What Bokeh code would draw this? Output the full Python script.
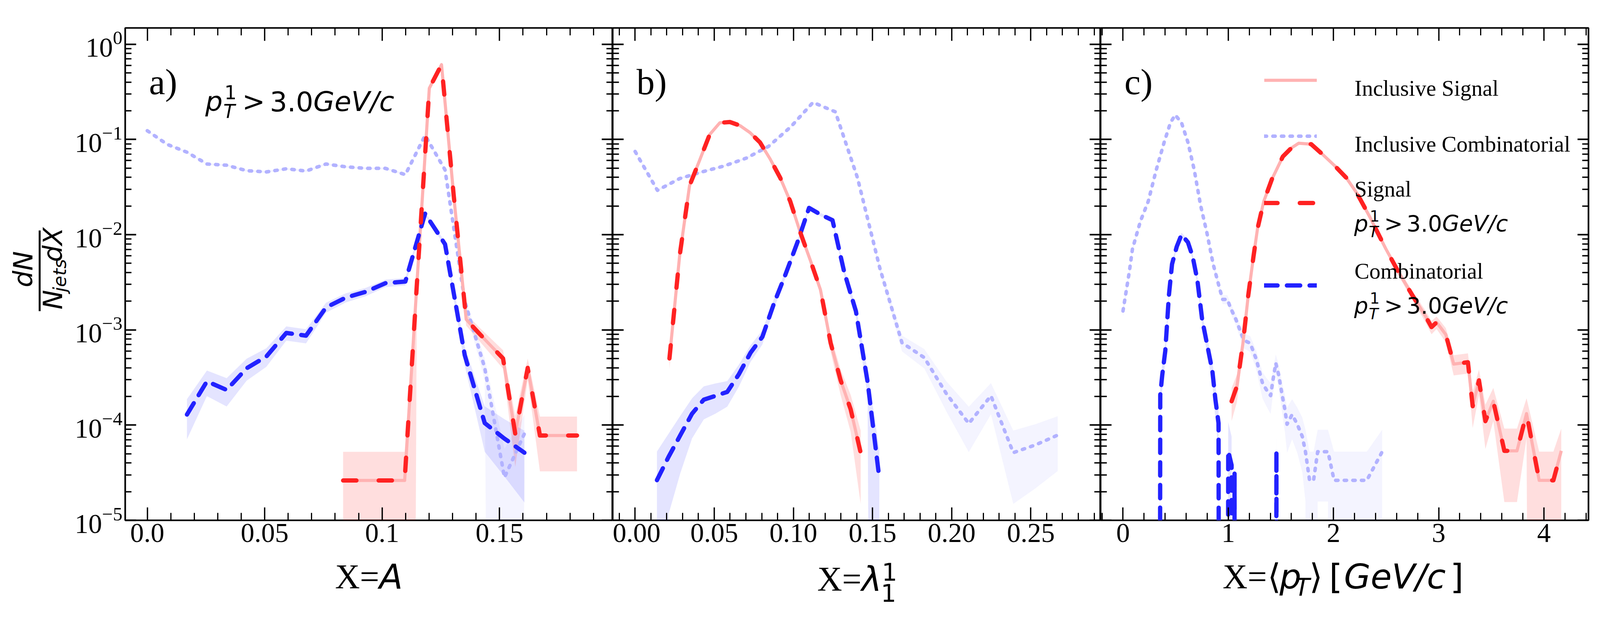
import math
from bokeh.plotting import figure
from bokeh.models import (Range1d, LinearAxis, LogAxis, FixedTicker, Label, Legend,
                          LegendItem, Arrow, CustomJSTickFormatter)
from bokeh.layouts import row, column
from bokeh.embed import file_html
from bokeh.resources import INLINE
from bokeh.core.properties import value

# ------------------------------------------------------------------ data
# Panel a) X = A
A_sig_x = [0.0834, 0.0886, 0.0939, 0.0991, 0.1044, 0.1096, 0.1148, 0.1201, 0.1253, 0.1305,
           0.1358, 0.1410, 0.1463, 0.1515, 0.1567, 0.1620, 0.1672, 0.1725, 0.1777, 0.1830]
A_sig_y = [2.62e-5, 2.62e-5, 2.62e-5, 2.62e-5, 2.62e-5, 2.62e-5, 3.0e-3, 0.345, 0.610, 0.0257,
           1.29e-3, 9.35e-4, 6.82e-4, 5.01e-4, 8.09e-5, 3.99e-4, 7.78e-5, 7.78e-5, 7.78e-5, 7.78e-5]
A_sig_err = [1.0, 1.0, 1.0, 1.0, 1.0, 1.0, 0.09, 0.01, 0.007, 0.03,
             0.14, 0.16, 0.19, 0.22, 0.55, 0.25, 0.58, 0.58, 0.58, 0.58]

A_comb_x = [0.0169, 0.0254, 0.0338, 0.0423, 0.0507, 0.0592, 0.0676, 0.0761, 0.0845, 0.0930,
            0.1014, 0.1099, 0.1183, 0.1268, 0.1352, 0.1437, 0.1521, 0.1606]
A_comb_y = [1.29e-4, 2.88e-4, 2.34e-4, 3.95e-4, 5.25e-4, 9.29e-4, 8.69e-4, 1.72e-3, 2.18e-3, 2.51e-3,
            3.09e-3, 3.22e-3, 1.66e-2, 7.94e-3, 5.41e-4, 1.05e-4, 7.21e-5, 5.13e-5]
A_comb_err = [0.45, 0.30, 0.33, 0.26, 0.22, 0.17, 0.17, 0.12, 0.11, 0.10,
              0.09, 0.09, 0.04, 0.06, 0.22, 0.5, 0.6, 0.7]

A_icomb_x = [0.0, 0.0085, 0.0169, 0.0254, 0.0338, 0.0423, 0.0507, 0.0592, 0.0676, 0.0761,
             0.0845, 0.0930, 0.1014, 0.1099, 0.1183, 0.1268, 0.1352, 0.1437, 0.1521, 0.1606]
A_icomb_y = [0.1236, 0.0887, 0.0735, 0.0552, 0.0536, 0.0470, 0.0456, 0.0492, 0.0466, 0.0552,
             0.0516, 0.0497, 0.0497, 0.0427, 0.1104, 0.0479, 2.0e-3, 3.98e-4, 2.82e-5, 8.13e-5]
A_icomb_err = [0.015, 0.017, 0.019, 0.022, 0.022, 0.024, 0.024, 0.023, 0.024, 0.022,
               0.023, 0.023, 0.023, 0.025, 0.015, 0.023, 0.11, 0.26, 1.0, 0.58]

# Panel b) X = lambda_1^1
B_sig_x = [0.0217, 0.0281, 0.0344, 0.0408, 0.0471, 0.0535, 0.0599, 0.0662, 0.0726, 0.0789,
           0.0853, 0.0917, 0.0980, 0.1044, 0.1107, 0.1171, 0.1235, 0.1298, 0.1362, 0.1425]
B_sig_y = [5.01e-4, 5.92e-3, 3.27e-2, 6.07e-2, 0.1125, 0.1496, 0.1524, 0.140, 0.118, 0.0931,
           0.0624, 0.0395, 0.0224, 0.0105, 5.38e-3, 2.64e-3, 7.33e-4, 2.97e-4, 1.46e-4, 5.13e-5]
B_sig_err = [0.23, 0.066, 0.028, 0.021, 0.015, 0.013, 0.013, 0.014, 0.015, 0.017,
             0.02, 0.026, 0.034, 0.05, 0.07, 0.10, 0.19, 0.30, 0.42, 0.71]

B_comb_x = [0.0138, 0.0212, 0.0286, 0.0360, 0.0434, 0.0508, 0.0582, 0.0656, 0.0730, 0.0804,
            0.0877, 0.0951, 0.1025, 0.1099, 0.1173, 0.1247, 0.1321, 0.1395, 0.1469, 0.1543]
B_comb_y = [2.64e-5, 4.66e-5, 7.85e-5, 1.32e-4, 1.85e-4, 2.03e-4, 2.23e-4, 3.43e-4, 5.78e-4, 8.45e-4,
            1.89e-3, 3.86e-3, 8.26e-3, 1.91e-2, 1.62e-2, 1.42e-2, 4.05e-3, 1.57e-3, 2.83e-4, 2.76e-5]
B_comb_err = [1.0, 0.75, 0.6, 0.45, 0.38, 0.35, 0.3, 0.26, 0.2, 0.17,
              0.12, 0.08, 0.056, 0.04, 0.04, 0.045, 0.08, 0.13, 0.3, 1.0]

B_icomb_x = [0.0, 0.0141, 0.0281, 0.0422, 0.0562, 0.0703, 0.0843, 0.0984, 0.1124, 0.1265,
             0.1405, 0.1546, 0.1686, 0.1827, 0.1967, 0.2108, 0.2248, 0.2389, 0.2529, 0.2670]
B_icomb_y = [7.48e-2, 2.92e-2, 3.88e-2, 4.56e-2, 5.26e-2, 6.37e-2, 8.45e-2, 0.136, 0.245, 0.195,
             3.95e-2, 4.46e-3, 7.33e-4, 5.11e-4, 2.13e-4, 1.04e-4, 2.03e-4, 5.13e-5, 6.19e-5, 7.85e-5]
B_icomb_err = [0.02, 0.03, 0.026, 0.024, 0.022, 0.02, 0.018, 0.014, 0.01, 0.012,
               0.026, 0.076, 0.19, 0.23, 0.35, 0.5, 0.36, 0.71, 0.65, 0.58]

# Panel c) X = <pT> [GeV/c]
C_sig_x = [1.032, 1.083, 1.141, 1.19, 1.24, 1.278, 1.338, 1.414, 1.519, 1.60,
           1.669, 1.789, 1.895, 2.015, 2.12, 2.226, 2.346, 2.496, 2.617, 2.752,
           2.872, 2.932, 2.98, 3.02, 3.068, 3.143, 3.278, 3.323, 3.383, 3.444,
           3.519, 3.624, 3.744, 3.835, 3.955, 4.090, 4.165]
C_sig_y = [1.78e-4, 2.57e-4, 7.41e-4, 2.29e-3, 5.89e-3, 1.15e-2, 2.24e-2, 3.80e-2, 6.61e-2, 8.13e-2,
           9.12e-2, 8.91e-2, 7.00e-2, 5.25e-2, 3.98e-2, 2.69e-2, 1.53e-2, 7.16e-3, 4.07e-3, 2.29e-3,
           1.41e-3, 1.07e-3, 1.20e-3, 1.05e-3, 8.91e-4, 4.37e-4, 4.57e-4, 1.58e-4, 2.95e-4, 1.10e-4,
           1.78e-4, 5.37e-5, 5.37e-5, 1.32e-4, 2.63e-5, 2.63e-5, 5.37e-5]
C_sig_err = [0.38, 0.32, 0.19, 0.11, 0.067, 0.048, 0.034, 0.026, 0.02, 0.018,
             0.017, 0.017, 0.019, 0.022, 0.026, 0.031, 0.041, 0.06, 0.08, 0.11,
             0.14, 0.16, 0.15, 0.16, 0.17, 0.24, 0.24, 0.41, 0.30, 0.49,
             0.38, 0.71, 0.71, 0.45, 1.0, 1.0, 0.71]

C_comb_x = [0.33, 0.354, 0.373, 0.402, 0.436, 0.466, 0.511, 0.556, 0.617, 0.662,
            0.707, 0.752, 0.797, 0.849, 0.878, 0.908, 0.94, 0.97, 1.0, 1.032,
            1.045, 1.06, 1.075, 1.44, 1.458, 1.475]
C_comb_y = [0, 2.07e-4, 3.35e-4, 6.03e-4, 2.29e-3, 4.90e-3, 7.50e-3, 1.00e-2, 8.32e-3, 5.89e-3,
            3.31e-3, 1.29e-3, 7.24e-4, 3.72e-4, 1.86e-4, 1.05e-4, 0, 0, 5.37e-5, 3.80e-5,
            0, 3.09e-5, 0, 0, 5.37e-5, 0]
C_comb_err = [0, 0.36, 0.29, 0.21, 0.11, 0.07, 0.06, 0.05, 0.055, 0.067,
              0.09, 0.14, 0.19, 0.27, 0.37, 0.5, 0, 0, 1.0, 1.0,
              0, 1.0, 0, 0, 1.0, 0]

C_icomb_x = [0.0, 0.06, 0.09, 0.165, 0.24, 0.316, 0.391, 0.451, 0.496, 0.556,
             0.617, 0.677, 0.737, 0.797, 0.857, 0.917, 0.947, 0.992, 1.022, 1.073,
             1.131, 1.151, 1.209, 1.267, 1.326, 1.364, 1.403, 1.423, 1.452, 1.481,
             1.510, 1.539, 1.559, 1.607, 1.656, 1.704, 1.734, 1.773, 1.811, 1.850,
             1.948, 2.006, 2.317, 2.463]
C_icomb_y = [1.58e-3, 4.07e-3, 7.08e-3, 1.38e-2, 2.24e-2, 4.79e-2, 9.33e-2, 0.150, 0.181, 0.150,
             9.33e-2, 4.79e-2, 2.04e-2, 1.05e-2, 4.90e-3, 2.75e-3, 2.09e-3, 2.09e-3, 1.70e-3, 1.29e-3,
             8.71e-4, 7.76e-4, 7.24e-4, 4.90e-4, 2.75e-4, 2.34e-4, 2.04e-4, 2.88e-4, 4.47e-4, 3.31e-4,
             2.14e-4, 1.45e-4, 1.02e-4, 1.29e-4, 1.02e-4, 7.59e-5, 5.25e-5, 2.63e-5, 2.63e-5, 5.25e-5,
             5.25e-5, 2.63e-5, 2.63e-5, 5.25e-5]
C_icomb_err = [0.13, 0.08, 0.06, 0.043, 0.034, 0.023, 0.017, 0.013, 0.012, 0.013,
               0.017, 0.023, 0.036, 0.05, 0.073, 0.097, 0.11, 0.11, 0.12, 0.14,
               0.17, 0.18, 0.19, 0.23, 0.31, 0.33, 0.36, 0.30, 0.24, 0.28,
               0.35, 0.42, 0.5, 0.45, 0.5, 0.58, 0.7, 1.0, 1.0, 0.7,
               0.7, 1.0, 1.0, 0.7]

# tick positions and labels
A_xticks = [0.0, 0.05, 0.10, 0.15]
A_xlabels = ["0.0", "0.05", "0.1", "0.15"]
B_xticks = [0.0, 0.05, 0.10, 0.15, 0.20, 0.25]
B_xlabels = ["0.00", "0.05", "0.10", "0.15", "0.20", "0.25"]
C_xticks = [0, 1, 2, 3, 4]
C_xlabels = ["0", "1", "2", "3", "4"]
Y_ticks = [1e-5, 1e-4, 1e-3, 1e-2, 1e-1, 1.0]

LEGEND_LABELS = ["Inclusive Signal", "Inclusive Combinatorial", "Signal", "Combinatorial"]

# ------------------------------------------------------------------ layout (page pixels)
FRAME_L = [328, 1576, 2825]
FRAME_R = [1576, 2825, 4074]
FRAME_T, FRAME_B = 79, 1339
ROW_BOTTOM = 1430          # bottom of the panel row
XLAB_BOTTOM = 1565         # bottom of the x-label strip
YLAB_RIGHT = 190           # right edge of the y-label strip
XR = [(-0.0094, 0.19819), (-0.01415, 0.29406), (-0.2130, 4.4235)]
YR = (1e-5, 1.483)
FLOOR = 1e-30
H1 = ROW_BOTTOM - 8
SERIF = "Liberation Serif"
SANS = "DejaVu Sans"
TICK_FS = 70
MID = 0.34                 # baseline -> vertical middle of a text line, in em

PINK = "#ffb2b2"
RED = "#ff2222"
BLUE = "#2222ff"
LBLUE = "#b2b2ff"


def minor_list(x0, x1, step, majors):
    out = []
    k = math.ceil(x0 / step - 1e-9)
    while k * step <= x1 + 1e-12:
        v = round(k * step, 6)
        if all(abs(v - m) > 1e-9 for m in majors):
            out.append(v)
        k += 1
    return out


Y_minor = [m * 10.0 ** e for e in range(-5, 1) for m in range(2, 10) if m * 10.0 ** e <= YR[1]]


def empty_fmt():
    return CustomJSTickFormatter(code="return '';")


def list_fmt(ticks, labels):
    return CustomJSTickFormatter(args=dict(tv=list(ticks), tl=list(labels)), code="""
        for (let i = 0; i < tv.length; i++) { if (Math.abs(tv[i] - tick) < 1e-9) return tl[i]; }
        return '';""")


def style_axis(ax, major_len, minor_len, width):
    ax.axis_line_color = None
    ax.major_tick_in = major_len
    ax.major_tick_out = 0
    ax.minor_tick_in = minor_len
    ax.minor_tick_out = 0
    ax.major_tick_line_width = width
    ax.minor_tick_line_width = width * 0.9
    ax.major_tick_line_color = "black"
    ax.minor_tick_line_color = "black"
    ax.major_label_text_font = SERIF
    ax.major_label_text_font_size = "%dpx" % TICK_FS
    ax.major_label_text_color = "black"


def make_panel(i, width, bl, br, xt, xl, step):
    x0, x1 = XR[i]
    p = figure(width=width, height=H1, x_range=Range1d(x0, x1), y_range=Range1d(*YR),
               y_axis_type="log", output_backend="svg", toolbar_location=None,
               min_border_left=bl, min_border_right=br,
               min_border_top=FRAME_T - 8, min_border_bottom=ROW_BOTTOM - FRAME_B)
    p.title.visible = False
    p.grid.visible = False
    p.outline_line_color = "black"
    p.outline_line_width = 4.2
    p.background_fill_color = "white"
    p.border_fill_color = "white"
    xminor = minor_list(x0, x1, step, xt)

    bx = p.xaxis[0]
    bx.ticker = FixedTicker(ticks=xt, minor_ticks=xminor)
    bx.formatter = list_fmt(xt, xl)
    style_axis(bx, 33, 19, 3.4)
    bx.major_label_standoff = 9

    ly = p.yaxis[0]
    ly.ticker = FixedTicker(ticks=Y_ticks, minor_ticks=Y_minor)
    style_axis(ly, 28, 16, 4)
    if i == 0:
        ly.major_label_standoff = 7
    else:
        ly.fixed_location = x0
        ly.formatter = empty_fmt()

    tx = LinearAxis(fixed_location=YR[1], ticker=FixedTicker(ticks=xt, minor_ticks=xminor),
                    formatter=empty_fmt())
    style_axis(tx, 33, 19, 3.4)
    p.add_layout(tx, "above")
    ry = LogAxis(fixed_location=x1, ticker=FixedTicker(ticks=Y_ticks, minor_ticks=Y_minor),
                 formatter=empty_fmt())
    style_axis(ry, 28, 16, 4)
    p.add_layout(ry, "right")
    return p


def text_canvas(w, h):
    p = figure(width=w, height=h, x_range=Range1d(0, w), y_range=Range1d(0, h),
               output_backend="svg", toolbar_location=None, title=None,
               x_axis_location=None, y_axis_location=None,
               min_border_left=0, min_border_right=0, min_border_top=0, min_border_bottom=0)
    p.grid.visible = False
    p.outline_line_color = None
    p.background_fill_color = "white"
    p.border_fill_color = "white"
    return p


def clipped(vals):
    return [v if v > 0 else FLOOR for v in vals]


def band(p, xs, ys, errs, color, alpha):
    lo = [max(y * (1 - e), FLOOR) if y > 0 else FLOOR for y, e in zip(ys, errs)]
    hi = [max(y * (1 + e), FLOOR) if y > 0 else FLOOR for y, e in zip(ys, errs)]
    p.varea(x=xs, y1=lo, y2=hi, fill_color=color, fill_alpha=alpha)


def draw(p, sx, sy, se, cx, cy, ce, ix, iy, ie):
    band(p, ix, iy, ie, BLUE, 0.05)
    band(p, cx, cy, ce, BLUE, 0.12)
    band(p, sx, sy, se, RED, 0.15)
    r_dot = p.line(ix, clipped(iy), line_color=LBLUE, line_width=9, line_dash="6 16",
                   line_cap="round", line_join="round")
    r_pink = p.line(sx, clipped(sy), line_color=PINK, line_width=8, line_join="round")
    r_blue = p.line(cx, clipped(cy), line_color=BLUE, line_width=11, line_dash="34 24",
                    line_cap="round", line_join="round")
    r_red = p.line(sx, clipped(sy), line_color=RED, line_width=11, line_dash="34 57",
                   line_cap="round", line_join="round")
    return r_pink, r_dot, r_red, r_blue


def p2d(i, px, py):
    x0, x1 = XR[i]
    x = x0 + (px - FRAME_L[i]) / (FRAME_R[i] - FRAME_L[i]) * (x1 - x0)
    l0, l1 = math.log10(YR[0]), math.log10(YR[1])
    ly = l0 + (FRAME_B - py) / (FRAME_B - FRAME_T) * (l1 - l0)
    return x, 10 ** ly


def label(p, x, y, text, size, font=SERIF, style="normal", angle=0.0):
    p.add_layout(Label(x=x, y=y, text=text, text_font=font, text_font_size="%.1fpx" % size,
                       text_font_style=style, text_color="black", angle=angle,
                       text_align="left", text_baseline="middle"))


def put(p, i, px, py, text, size, font=SERIF, style="normal"):
    # (px, py): page position of the text origin on its baseline
    x, y = p2d(i, px, py - MID * size)
    label(p, x, y, text, size, font, style)


def pt_cut(p, i, x0, y0, F):
    put(p, i, x0, y0, "p", F, SANS, "italic")
    put(p, i, x0 + 0.70 * F, y0 - 0.44 * F, "1", 0.7 * F, SANS)
    put(p, i, x0 + 0.66 * F, y0 + 0.27 * F, "T", 0.7 * F, SANS, "italic")
    put(p, i, x0 + 1.35 * F, y0, ">", F, SANS)
    put(p, i, x0 + 2.36 * F, y0, "3.0", F, SANS)
    put(p, i, x0 + 3.95 * F, y0, "GeV/c", F, SANS, "italic")


# ------------------------------------------------------------------ figures
ylab = text_canvas(YLAB_RIGHT - 8, H1)
pa = make_panel(0, FRAME_R[0] - YLAB_RIGHT, FRAME_L[0] - YLAB_RIGHT, 0, A_xticks, A_xlabels, 0.01)
pb = make_panel(1, FRAME_R[1] - FRAME_L[1], 0, 0, B_xticks, B_xlabels, 0.01)
pc = make_panel(2, FRAME_R[2] - FRAME_L[2] + 8, 0, 8, C_xticks, C_xlabels, 0.2)
xlab = text_canvas(FRAME_R[2], XLAB_BOTTOM - ROW_BOTTOM)

draw(pa, A_sig_x, A_sig_y, A_sig_err, A_comb_x, A_comb_y, A_comb_err, A_icomb_x, A_icomb_y, A_icomb_err)
draw(pb, B_sig_x, B_sig_y, B_sig_err, B_comb_x, B_comb_y, B_comb_err, B_icomb_x, B_icomb_y, B_icomb_err)
rc = draw(pc, C_sig_x, C_sig_y, C_sig_err, C_comb_x, C_comb_y, C_comb_err, C_icomb_x, C_icomb_y, C_icomb_err)

# panel letters
for i, (p, t) in enumerate([(pa, "a)"), (pb, "b)"), (pc, "c)")]):
    put(p, i, FRAME_L[i] + 61, 249, t, 93, SERIF)

# cut annotation in panel a
pt_cut(pa, 0, 533, 291, 70)

# y label: fraction dN / (N_jets dX), rotated; (px = baseline x, py = start of text)
R = math.pi / 2
def yl(px, py, text, size):
    label(ylab, px - MID * size - 8, ROW_BOTTOM - py, text, size, SANS, "italic", angle=R)

yl(90, 757, "dN", 67)
yl(166, 821, "N", 67)
yl(176, 770.9, "jets", 46.9)
yl(166, 684, "dX", 67)
ylab.add_layout(Arrow(start=None, end=None, x_start=109 - 8, y_start=ROW_BOTTOM - 826,
                      x_end=109 - 8, y_end=ROW_BOTTOM - 593, line_width=5, line_color="black"))

# x labels in the strip below the panels (px, py = baseline origin)
def xl(px, py, text, size, font=SERIF, style="normal"):
    label(xlab, px - 8, XLAB_BOTTOM - (py - MID * size), text, size, font, style)

xl(865.3, 1513, "X=", 88)
xl(978.5, 1513, "A", 88, SANS, "italic")

xl(2099.7, 1519, "X=", 88)
xl(2212.9, 1519, "\u03bb", 88, SANS, "italic")
xl(2265, 1492, "1", 62, SANS)
xl(2262.5, 1546, "1", 62, SANS)

xl(3137.6, 1513, "X=", 88)
xl(3252.2, 1513, "\u27e8", 88, SANS)
xl(3282.9, 1513, "p", 88, SANS, "italic")
xl(3322.8, 1531, "T", 62, SANS, "italic")
xl(3359.3, 1513, "\u27e9", 88, SANS)
xl(3410, 1513, "[", 88, SANS)
xl(3448, 1513, "GeV/c", 88, SANS, "italic")
xl(3720, 1513, "]", 88, SANS)

# legend (panel c): line samples from the legend, texts placed as labels
def leg(p, rend, cy):
    h = 88
    item = LegendItem(label=value(""), renderers=[rend])
    L = Legend(items=[item], location=(3244 - FRAME_L[2], FRAME_B - cy - h / 2),
               orientation="vertical", padding=0, margin=0, spacing=0,
               glyph_width=135, glyph_height=h, label_height=h, label_width=1, label_standoff=0,
               label_text_font=SERIF, label_text_font_size="57px",
               border_line_color=None, background_fill_alpha=0)
    p.add_layout(L)

leg(pc, rc[0], 213)
leg(pc, rc[1], 356)
leg(pc, rc[2], 527)
leg(pc, rc[3], 738)
put(pc, 2, 3475, 252, LEGEND_LABELS[0], 57, SERIF)
put(pc, 2, 3475, 395, LEGEND_LABELS[1], 57, SERIF)
put(pc, 2, 3475, 510, LEGEND_LABELS[2], 57, SERIF)
put(pc, 2, 3475, 720, LEGEND_LABELS[3], 57, SERIF)
pt_cut(pc, 2, 3474, 599, 57)
pt_cut(pc, 2, 3474, 809, 57)

layout = column(row(ylab, pa, pb, pc), xlab)
open("out.html", "w").write(file_html(layout, INLINE))
